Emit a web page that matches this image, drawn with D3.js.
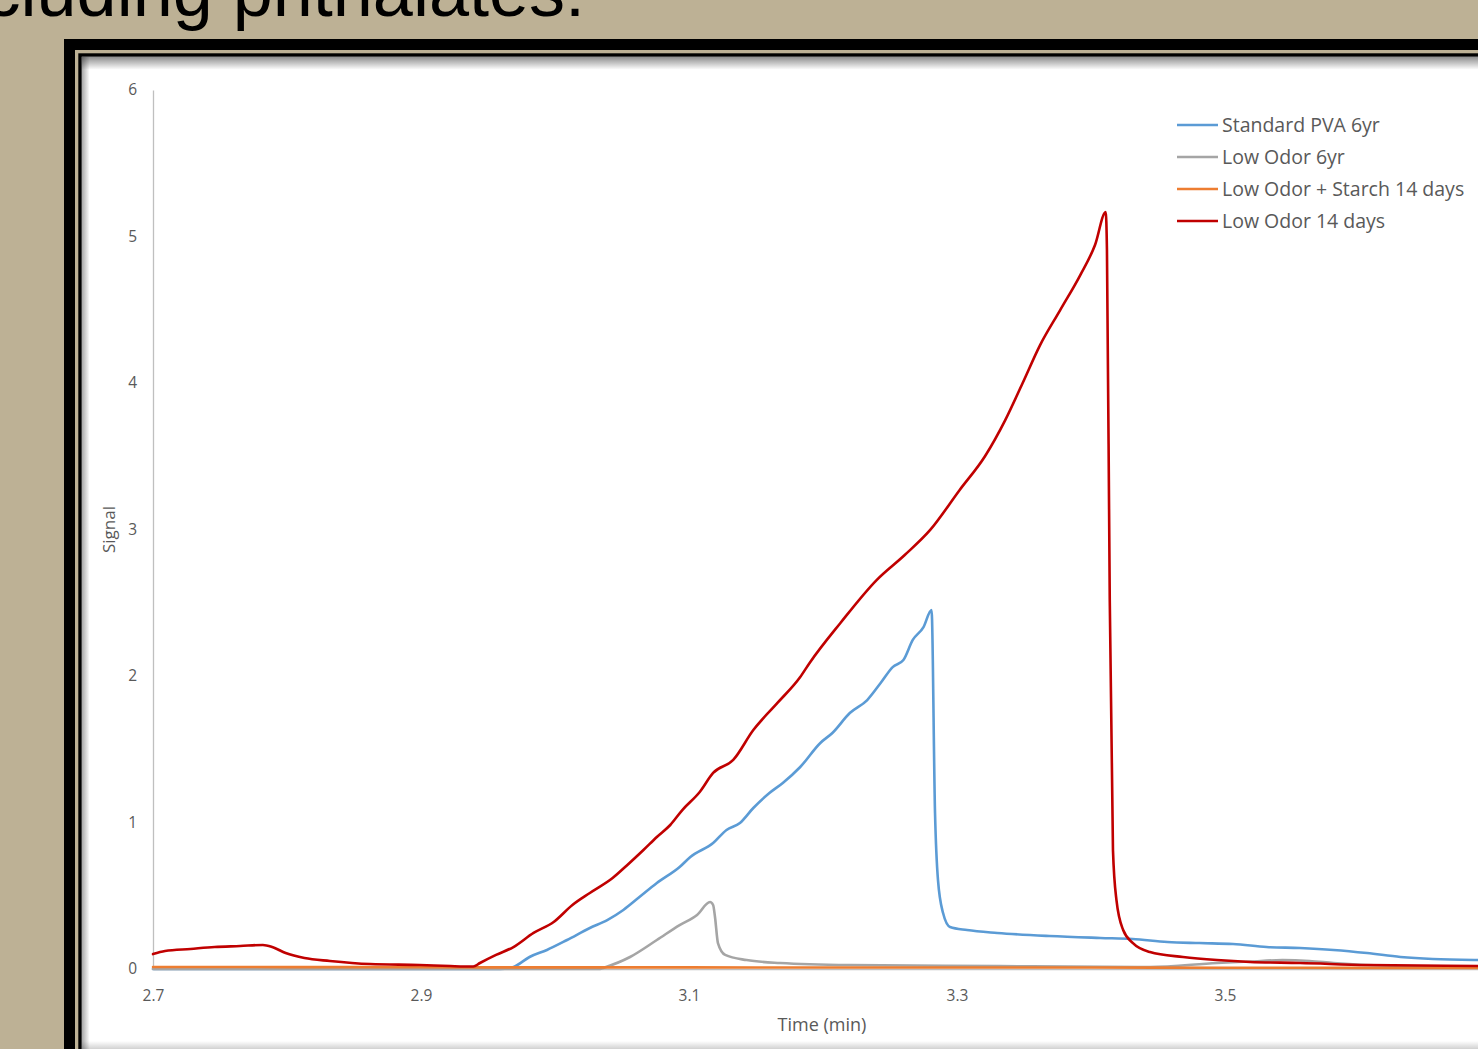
<!DOCTYPE html>
<html>
<head>
<meta charset="utf-8">
<script src="https://cdn.jsdelivr.net/npm/d3@7/dist/d3.min.js"></script>
<style>
  html, body { margin: 0; padding: 0; background: #BDB195; overflow: hidden; }
  svg { display: block; }
</style>
</head>
<body>
<svg id="chart" width="1478" height="1049"></svg>
<script>
// ---------------- data ----------------
const seriesNames = ["Standard PVA 6yr", "Low Odor 6yr", "Low Odor + Starch 14 days", "Low Odor 14 days"];
const seriesColors = ["#5B9BD5", "#A5A5A5", "#ED7D31", "#C00000"];

const xTicks = [2.7, 2.9, 3.1, 3.3, 3.5];
const yTicks = [0, 1, 2, 3, 4, 5, 6];

// Standard PVA 6yr
const pvaTime   = [2.700, 2.959, 2.969, 2.981, 2.994, 3.009, 3.026, 3.039, 3.051, 3.063, 3.076, 3.093, 3.101, 3.118, 3.128, 3.138, 3.148, 3.160, 3.170, 3.183, 3.198, 3.207, 3.220, 3.233, 3.243, 3.252, 3.260, 3.267, 3.275, 3.281, 3.2836, 3.2858, 3.2896, 3.2948, 3.3075, 3.330, 3.369, 3.407, 3.431, 3.457, 3.481, 3.506, 3.531, 3.556, 3.581, 3.606, 3.631, 3.655, 3.689, 3.700];
const pvaSignal = [0.000, 0.000, 0.014, 0.082, 0.130, 0.198, 0.280, 0.334, 0.403, 0.491, 0.587, 0.696, 0.765, 0.860, 0.949, 0.997, 1.099, 1.201, 1.270, 1.379, 1.543, 1.611, 1.747, 1.836, 1.952, 2.061, 2.109, 2.246, 2.334, 2.451, 1.065, 0.608, 0.382, 0.287, 0.266, 0.246, 0.225, 0.212, 0.205, 0.184, 0.177, 0.171, 0.150, 0.143, 0.130, 0.109, 0.082, 0.068, 0.061, 0.060];

// Low Odor 6yr
const lo6Time   = [2.700, 3.0336, 3.036, 3.056, 3.076, 3.093, 3.106, 3.1157, 3.118, 3.1194, 3.1216, 3.127, 3.143, 3.168, 3.220, 3.332, 3.444, 3.494, 3.5187, 3.543, 3.563, 3.581, 3.631, 3.689, 3.700];
const lo6Signal = [0.000, 0.000, 0.007, 0.082, 0.198, 0.300, 0.369, 0.457, 0.437, 0.355, 0.177, 0.096, 0.061, 0.041, 0.027, 0.020, 0.014, 0.041, 0.051, 0.061, 0.055, 0.041, 0.020, 0.014, 0.014];

// Low Odor + Starch 14 days
const starchTime   = [2.700, 2.800, 2.900, 3.000, 3.100, 3.200, 3.300, 3.400, 3.500, 3.600, 3.700];
const starchSignal = [0.014, 0.013, 0.012, 0.011, 0.011, 0.010, 0.010, 0.010, 0.009, 0.008, 0.008];

// Low Odor 14 days
const lo14Time   = [2.700, 2.709, 2.728, 2.746, 2.765, 2.782, 2.789, 2.799, 2.813, 2.832, 2.862, 2.899, 2.922, 2.939, 2.944, 2.956, 2.969, 2.984, 2.999, 3.013, 3.026, 3.043, 3.054, 3.066, 3.076, 3.086, 3.095, 3.108, 3.118, 3.133, 3.148, 3.166, 3.183, 3.190, 3.213, 3.240, 3.261, 3.280, 3.302, 3.321, 3.336, 3.349, 3.362, 3.377, 3.392, 3.403, 3.411, 3.4119, 3.414, 3.4164, 3.419, 3.424, 3.4313, 3.444, 3.4687, 3.494, 3.5187, 3.556, 3.606, 3.689, 3.700];
const lo14Signal = [0.102, 0.123, 0.137, 0.150, 0.157, 0.164, 0.150, 0.109, 0.075, 0.055, 0.034, 0.027, 0.020, 0.017, 0.041, 0.096, 0.150, 0.246, 0.321, 0.437, 0.519, 0.621, 0.710, 0.812, 0.901, 0.983, 1.085, 1.208, 1.338, 1.427, 1.631, 1.816, 1.993, 2.089, 2.362, 2.655, 2.826, 2.997, 3.270, 3.502, 3.747, 4.000, 4.259, 4.498, 4.737, 4.942, 5.167, 4.910, 2.520, 0.810, 0.470, 0.266, 0.177, 0.116, 0.082, 0.061, 0.048, 0.041, 0.027, 0.020, 0.019];

const seriesTimes   = [pvaTime, lo6Time, starchTime, lo14Time];
const seriesSignals = [pvaSignal, lo6Signal, starchSignal, lo14Signal];

// ---------------- drawing ----------------
const svg = d3.select("#chart");
const W = 1478, H = 1049;
const defs = svg.append("defs");

// background
svg.append("rect").attr("width", W).attr("height", H).attr("fill", "#BDB195");

// slide title fragment
svg.append("text")
  .attr("x", 585).attr("y", 16)
  .attr("text-anchor", "end")
  .attr("font-family", "'Liberation Sans', Arial, sans-serif")
  .attr("font-size", 72)
  .attr("fill", "#000")
  .text("cluding phthalates:");

// frame
svg.append("rect").attr("x", 64).attr("y", 39).attr("width", 2000).attr("height", 2000).attr("fill", "#000");
svg.append("rect").attr("x", 75).attr("y", 50).attr("width", 2000).attr("height", 2000).attr("fill", "#BDB195");
svg.append("rect").attr("x", 78.3).attr("y", 53.3).attr("width", 2000).attr("height", 2000).attr("fill", "#000");
svg.append("rect").attr("x", 81.7).attr("y", 56.7).attr("width", 2000).attr("height", 2000).attr("fill", "#fff");

// inner shadows
const gTop = defs.append("linearGradient").attr("id", "shTop").attr("x1", 0).attr("y1", 0).attr("x2", 0).attr("y2", 1);
gTop.append("stop").attr("offset", "0%").attr("stop-color", "#000").attr("stop-opacity", 0.45);
gTop.append("stop").attr("offset", "100%").attr("stop-color", "#000").attr("stop-opacity", 0);
const gLeft = defs.append("linearGradient").attr("id", "shLeft").attr("x1", 0).attr("y1", 0).attr("x2", 1).attr("y2", 0);
gLeft.append("stop").attr("offset", "0%").attr("stop-color", "#000").attr("stop-opacity", 0.35);
gLeft.append("stop").attr("offset", "100%").attr("stop-color", "#000").attr("stop-opacity", 0);
const gBot = defs.append("linearGradient").attr("id", "shBot").attr("x1", 0).attr("y1", 0).attr("x2", 0).attr("y2", 1);
gBot.append("stop").attr("offset", "0%").attr("stop-color", "#000").attr("stop-opacity", 0);
gBot.append("stop").attr("offset", "100%").attr("stop-color", "#000").attr("stop-opacity", 0.18);

svg.append("rect").attr("x", 81.7).attr("y", 56.7).attr("width", 1400).attr("height", 13).attr("fill", "url(#shTop)");
svg.append("rect").attr("x", 81.7).attr("y", 56.7).attr("width", 8).attr("height", 1000).attr("fill", "url(#shLeft)");
svg.append("rect").attr("x", 81.7).attr("y", 1041).attr("width", 1400).attr("height", 8).attr("fill", "url(#shBot)");

// scales
const x = d3.scaleLinear().domain([2.7, 3.7]).range([153, 1493]);
const y = d3.scaleLinear().domain([0, 6]).range([969, 90]);

const fontFam = "'Open Sans', 'Noto Sans', sans-serif";
const textCol = "#595959";

// y axis
const yAxis = d3.axisLeft(y).tickValues(yTicks).tickSize(0).tickPadding(16).tickFormat(d3.format("d"));
const gy = svg.append("g").attr("transform", `translate(${x(2.7)},0)`).call(yAxis);
gy.select(".domain").attr("stroke", "#BFBFBF").attr("stroke-width", 1.3);
gy.selectAll("text").attr("font-family", fontFam).attr("font-size", 15.5).attr("fill", textCol);

// x axis
const xAxis = d3.axisBottom(x).tickValues(xTicks).tickSize(0).tickPadding(21).tickFormat(d3.format(".1f"));
const gx = svg.append("g").attr("transform", `translate(0,${y(0)})`).call(xAxis);
gx.select(".domain").attr("stroke", "#BFBFBF").attr("stroke-width", 1.5);
gx.selectAll("text").attr("font-family", fontFam).attr("font-size", 15.5).attr("fill", textCol);

// axis titles
svg.append("text")
  .attr("transform", `translate(115,${(y(0) + y(6)) / 2}) rotate(-90)`)
  .attr("text-anchor", "middle")
  .attr("font-family", fontFam).attr("font-size", 17).attr("fill", textCol)
  .text("Signal");
svg.append("text")
  .attr("x", 822).attr("y", 1031)
  .attr("text-anchor", "middle")
  .attr("font-family", fontFam).attr("font-size", 18).attr("fill", textCol)
  .text("Time (min)");

// lines
const line = d3.line().x(d => x(d[0])).y(d => y(d[1])).curve(d3.curveMonotoneX);
const plot = svg.append("g");
seriesNames.forEach((name, i) => {
  const pts = seriesTimes[i].map((t, k) => [t, seriesSignals[i][k]]);
  plot.append("path")
    .datum(pts)
    .attr("d", line)
    .attr("fill", "none")
    .attr("stroke", seriesColors[i])
    .attr("stroke-width", 2.6)
    .attr("stroke-linejoin", "round")
    .attr("stroke-linecap", "round");
});

// legend
const legend = svg.append("g").attr("transform", "translate(1177,125)");
seriesNames.forEach((name, i) => {
  const g = legend.append("g").attr("transform", `translate(0,${i * 32})`);
  g.append("line").attr("x1", 0).attr("x2", 41).attr("y1", 0).attr("y2", 0)
    .attr("stroke", seriesColors[i]).attr("stroke-width", 2.6);
  g.append("text").attr("x", 45).attr("y", 0).attr("dy", "0.35em")
    .attr("font-family", fontFam).attr("font-size", 19.5).attr("fill", textCol)
    .text(name);
});
</script>
</body>
</html>
